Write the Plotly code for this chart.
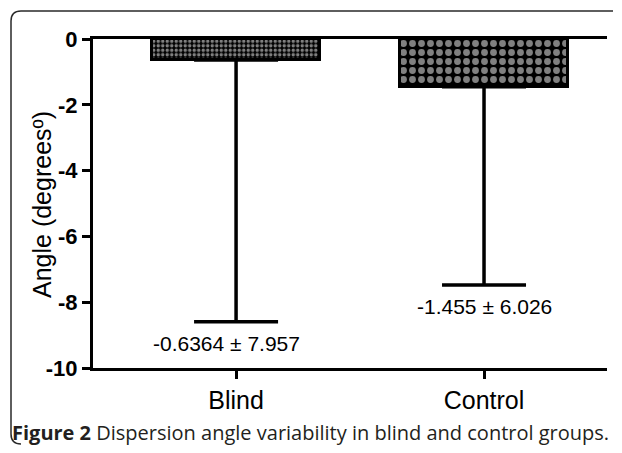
import plotly.graph_objects as go

# ---- data ----
categories = ["Blind", "Control"]
means = [-0.6364, -1.455]
sds = [7.957, 6.026]
labels = ["-0.6364 ± 7.957", "-1.455 ± 6.026"]
y_ticks = [0, -2, -4, -6, -8, -10]
y_title = "Angle (degreesº)"
caption_bold = "Figure 2"
caption_text = " Dispersion angle variability in blind and control groups."

# The page body has an 8px default margin, so figure pixel = page pixel - 8.
OFF = 8
W, H = 622 - 2 * OFF, 453 - 2 * OFF   # fits the window without scrolling
L, R, T, B = 93 - OFF, 607 - OFF, 39 - OFF, 368 - OFF  # plot area (figure px)

def px_x(p):  # page pixel -> paper x
    return (p - OFF - L) / (R - L)

def px_y(p):  # page pixel -> paper y
    return (B - (p - OFF)) / (B - T)

patterns = [
    dict(shape=".", fgcolor="white", bgcolor="black", size=4.5, solidity=0.45),
    dict(shape=".", fgcolor="white", bgcolor="black", size=9, solidity=0.45),
]

fig = go.Figure()
for i, c in enumerate(categories):
    fig.add_trace(go.Bar(
        x=[c], y=[means[i]],
        width=0.68,
        marker=dict(color="white", pattern=patterns[i],
                    line=dict(color="black", width=3)),
        error_y=dict(type="data", symmetric=False, array=[0], arrayminus=[sds[i]],
                     color="black", thickness=3.5, width=42),
        showlegend=False,
    ))

label_xshift = [-10, 0]
for i, c in enumerate(categories):
    fig.add_annotation(x=c, y=means[i] - sds[i], text=labels[i], showarrow=False,
                       yanchor="top", yshift=-8, xshift=label_xshift[i],
                       font=dict(family="Liberation Sans, Arial", size=21, color="black"))

# y-axis title
fig.add_annotation(xref="paper", yref="paper", x=px_x(42), y=px_y(205), textangle=-90,
                   xanchor="center", yanchor="middle", showarrow=False, text=y_title,
                   font=dict(family="Liberation Sans, Arial", size=25, color="black"))

# caption
fig.add_annotation(xref="paper", yref="paper", x=px_x(10), y=px_y(432),
                   xanchor="left", yanchor="middle", showarrow=False,
                   text=f"<b>{caption_bold}</b>{caption_text}",
                   font=dict(family="Open Sans", size=20, color="#231f20"))

# rounded frame (page pixels), open on the right where it leaves the picture
fx0, fx1, fy0, fy1, r = 11, 613, 11, 444, 10
def P(x, y):
    return f"{px_x(x)},{px_y(y)}"
path = (f"M {P(fx1, fy0)} L {P(fx0 + r, fy0)} Q {P(fx0, fy0)} {P(fx0, fy0 + r)} "
        f"L {P(fx0, fy1 - r)} Q {P(fx0, fy1)} {P(fx0 + r, fy1)}")
fig.add_shape(type="path", xref="paper", yref="paper", path=path,
              line=dict(color="#2a2a2a", width=1.5), layer="above")

fig.update_layout(
    width=W, height=H,
    margin=dict(l=L, r=W - R, t=T, b=H - B, autoexpand=False),
    plot_bgcolor="white", paper_bgcolor="white",
    bargap=0,
)
fig.update_xaxes(
    type="category", range=[-0.577, 1.496],
    showline=True, linecolor="black", linewidth=3, mirror=True,
    ticks="outside", ticklen=8, tickwidth=3, tickcolor="black",
    tickfont=dict(family="Liberation Sans, Arial", size=25, color="black"),
    showgrid=False, zeroline=False,
)
fig.update_yaxes(
    range=[-10, 0], tickvals=y_ticks, ticktext=[f"<b>{v}</b>" for v in y_ticks],
    showline=True, linecolor="black", linewidth=3,
    ticks="outside", ticklen=8, tickwidth=3, tickcolor="black",
    tickfont=dict(family="Liberation Sans, Arial", size=22, color="black"),
    showgrid=False, zeroline=False,
)

fig.write_html("out.html")
